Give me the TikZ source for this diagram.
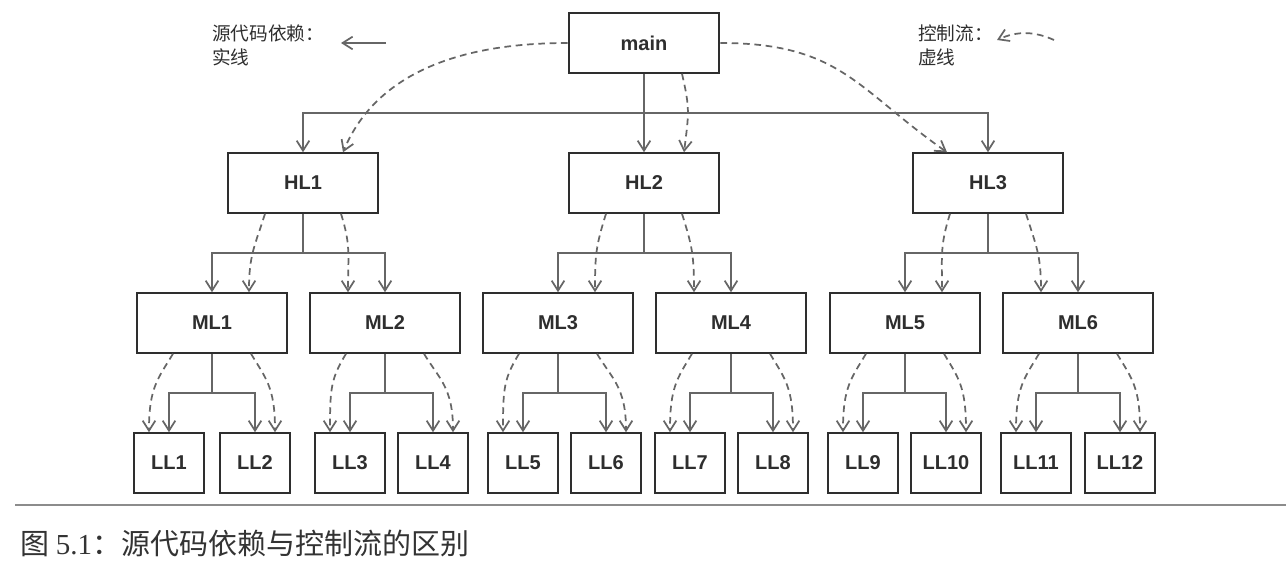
\documentclass[tikz,border=0pt]{standalone}
\usepackage{fontspec}
\setmainfont{Liberation Sans}
\newfontfamily\cjk{Noto Sans CJK SC}
\newfontfamily\numfont{Liberation Serif}
\usetikzlibrary{arrows.meta,calc}
\definecolor{boxgray}{HTML}{2E2E2E}
\definecolor{linegray}{HTML}{666666}
\definecolor{rulegray}{HTML}{8C8C8C}
\definecolor{capgray}{HTML}{333333}

\begin{document}
\begin{tikzpicture}[x=0.75pt,y=0.75pt,yscale=-1,xscale=1,
  box/.style={draw=boxgray,line width=1.6pt,fill=white,minimum width=113pt,minimum height=44.5pt,inner sep=0pt,text=boxgray,font=\fontsize{15}{17}\selectfont\bfseries},
  leaf/.style={box,minimum width=53pt},
  dep/.style={draw=linegray,line width=1.3pt},
  ctl/.style={dep,dash pattern=on 5pt off 3.5pt},
  legend/.style={anchor=west,inner sep=0pt,align=left,text=boxgray,font=\cjk\fontsize{14}{18}\selectfont},
  >={Straight Barb[length=7.5pt,width=9.5pt]}
]
\useasboundingbox (0,0) rectangle (1286,570);

% Legend
\node[legend] (srcText) at (212,45) {源代码依赖：\\实线};
\coordinate (srcFrom) at (386,43);
\coordinate (srcTo) at (341,43);
\draw[dep,->] (srcFrom) -- (srcTo);
\node[legend] (ctlText) at (918,45) {控制流：\\虚线};
\coordinate (ctlFrom) at (1054,40);
\coordinate (ctlTo) at (997,40);
\draw[ctl,->] (ctlFrom) .. controls +(-20,-9) and +(20,-9) .. (ctlTo);

%Shape: Rectangle
\node[box] (main) at (644,43) {main};
\node[box] (HL1) at (303,183) {HL1};
\node[box] (HL2) at (644,183) {HL2};
\node[box] (HL3) at (988,183) {HL3};
\node[box] (ML1) at (212,323) {ML1};
\node[box] (ML2) at (385,323) {ML2};
\node[box] (ML3) at (558,323) {ML3};
\node[box] (ML4) at (731,323) {ML4};
\node[box] (ML5) at (905,323) {ML5};
\node[box] (ML6) at (1078,323) {ML6};
\node[leaf] (LL1) at (169,463) {LL1};
\node[leaf] (LL2) at (255,463) {LL2};
\node[leaf] (LL3) at (350,463) {LL3};
\node[leaf] (LL4) at (433,463) {LL4};
\node[leaf] (LL5) at (523,463) {LL5};
\node[leaf] (LL6) at (606,463) {LL6};
\node[leaf] (LL7) at (690,463) {LL7};
\node[leaf] (LL8) at (773,463) {LL8};
\node[leaf] (LL9) at (863,463) {LL9};
\node[leaf] (LL10) at (946,463) {LL10};
\node[leaf] (LL11) at (1036,463) {LL11};
\node[leaf] (LL12) at (1120,463) {LL12};

%Straight Lines: main -> HL
\coordinate (busMain) at ($(main.south)!.5!(HL2.north)$);
\draw[dep,->] (main.south) -- (HL2.north);
\draw[dep,->] (busMain) -| (HL1.north);
\draw[dep,->] (busMain) -| (HL3.north);
%Curve Lines: main -> HL
\draw[ctl,->] (main.west) .. controls +(-120,0) and +(30,-72) .. ($(HL1.north)+(40,0)$);
\draw[ctl,->] ($(main.south)+(38,0)$) .. controls +(8,35) and +(5,-40) .. ($(HL2.north)+(40,0)$);
\draw[ctl,->] (main.east) .. controls +(120,0) and +(-90,-63) .. ($(HL3.north)+(-41,0)$);

%Straight Lines: HL1
\coordinate (busHL1) at ($(HL1.south)!.5!(HL1.south |- ML1.north)$);
\draw[dep] (HL1.south) -- (busHL1);
\draw[dep,->] (busHL1) -| (ML1.north);
\draw[dep,->] (busHL1) -| (ML2.north);
\draw[ctl,->] ($(HL1.south)+(-38,0)$) .. controls +(-10,32) and +(0,-38) .. ($(ML1.north)+(37,0)$);
\draw[ctl,->] ($(HL1.south)+(38,0)$) .. controls +(10,32) and +(0,-38) .. ($(ML2.north)+(-37,0)$);
%Straight Lines: HL2
\coordinate (busHL2) at ($(HL2.south)!.5!(HL2.south |- ML3.north)$);
\draw[dep] (HL2.south) -- (busHL2);
\draw[dep,->] (busHL2) -| (ML3.north);
\draw[dep,->] (busHL2) -| (ML4.north);
\draw[ctl,->] ($(HL2.south)+(-38,0)$) .. controls +(-10,32) and +(0,-38) .. ($(ML3.north)+(37,0)$);
\draw[ctl,->] ($(HL2.south)+(38,0)$) .. controls +(10,32) and +(0,-38) .. ($(ML4.north)+(-37,0)$);
%Straight Lines: HL3
\coordinate (busHL3) at ($(HL3.south)!.5!(HL3.south |- ML5.north)$);
\draw[dep] (HL3.south) -- (busHL3);
\draw[dep,->] (busHL3) -| (ML5.north);
\draw[dep,->] (busHL3) -| (ML6.north);
\draw[ctl,->] ($(HL3.south)+(-38,0)$) .. controls +(-10,32) and +(0,-38) .. ($(ML5.north)+(37,0)$);
\draw[ctl,->] ($(HL3.south)+(38,0)$) .. controls +(10,32) and +(0,-38) .. ($(ML6.north)+(-37,0)$);

%Straight Lines: ML1
\coordinate (busML1) at ($(ML1.south)!.5!(ML1.south |- LL1.north)$);
\draw[dep] (ML1.south) -- (busML1);
\draw[dep,->] (busML1) -| (LL1.north);
\draw[dep,->] (busML1) -| (LL2.north);
\draw[ctl,->] ($(ML1.south)+(-39,0)$) .. controls +(-15,25) and +(0,-45) .. ($(LL1.north)+(-20,0)$);
\draw[ctl,->] ($(ML1.south)+(39,0)$) .. controls +(15,25) and +(0,-45) .. ($(LL2.north)+(20,0)$);
%Straight Lines: ML2
\coordinate (busML2) at ($(ML2.south)!.5!(ML2.south |- LL3.north)$);
\draw[dep] (ML2.south) -- (busML2);
\draw[dep,->] (busML2) -| (LL3.north);
\draw[dep,->] (busML2) -| (LL4.north);
\draw[ctl,->] ($(ML2.south)+(-39,0)$) .. controls +(-15,25) and +(0,-45) .. ($(LL3.north)+(-20,0)$);
\draw[ctl,->] ($(ML2.south)+(39,0)$) .. controls +(15,25) and +(0,-45) .. ($(LL4.north)+(20,0)$);
%Straight Lines: ML3
\coordinate (busML3) at ($(ML3.south)!.5!(ML3.south |- LL5.north)$);
\draw[dep] (ML3.south) -- (busML3);
\draw[dep,->] (busML3) -| (LL5.north);
\draw[dep,->] (busML3) -| (LL6.north);
\draw[ctl,->] ($(ML3.south)+(-39,0)$) .. controls +(-15,25) and +(0,-45) .. ($(LL5.north)+(-20,0)$);
\draw[ctl,->] ($(ML3.south)+(39,0)$) .. controls +(15,25) and +(0,-45) .. ($(LL6.north)+(20,0)$);
%Straight Lines: ML4
\coordinate (busML4) at ($(ML4.south)!.5!(ML4.south |- LL7.north)$);
\draw[dep] (ML4.south) -- (busML4);
\draw[dep,->] (busML4) -| (LL7.north);
\draw[dep,->] (busML4) -| (LL8.north);
\draw[ctl,->] ($(ML4.south)+(-39,0)$) .. controls +(-15,25) and +(0,-45) .. ($(LL7.north)+(-20,0)$);
\draw[ctl,->] ($(ML4.south)+(39,0)$) .. controls +(15,25) and +(0,-45) .. ($(LL8.north)+(20,0)$);
%Straight Lines: ML5
\coordinate (busML5) at ($(ML5.south)!.5!(ML5.south |- LL9.north)$);
\draw[dep] (ML5.south) -- (busML5);
\draw[dep,->] (busML5) -| (LL9.north);
\draw[dep,->] (busML5) -| (LL10.north);
\draw[ctl,->] ($(ML5.south)+(-39,0)$) .. controls +(-15,25) and +(0,-45) .. ($(LL9.north)+(-20,0)$);
\draw[ctl,->] ($(ML5.south)+(39,0)$) .. controls +(15,25) and +(0,-45) .. ($(LL10.north)+(20,0)$);
%Straight Lines: ML6
\coordinate (busML6) at ($(ML6.south)!.5!(ML6.south |- LL11.north)$);
\draw[dep] (ML6.south) -- (busML6);
\draw[dep,->] (busML6) -| (LL11.north);
\draw[dep,->] (busML6) -| (LL12.north);
\draw[ctl,->] ($(ML6.south)+(-39,0)$) .. controls +(-15,25) and +(0,-45) .. ($(LL11.north)+(-20,0)$);
\draw[ctl,->] ($(ML6.south)+(39,0)$) .. controls +(15,25) and +(0,-45) .. ($(LL12.north)+(20,0)$);

% Caption
\coordinate (ruleL) at (15,505);
\coordinate (ruleR) at (1286,505);
\draw[draw=rulegray,line width=1.2pt] (ruleL) -- (ruleR);
\node[anchor=west,inner sep=0pt,text=capgray,font=\cjk\fontsize{21.75}{26}\selectfont] (caption) at (20,543) {图 {\numfont 5.1}：源代码依赖与控制流的区别};

\end{tikzpicture}
\end{document}
